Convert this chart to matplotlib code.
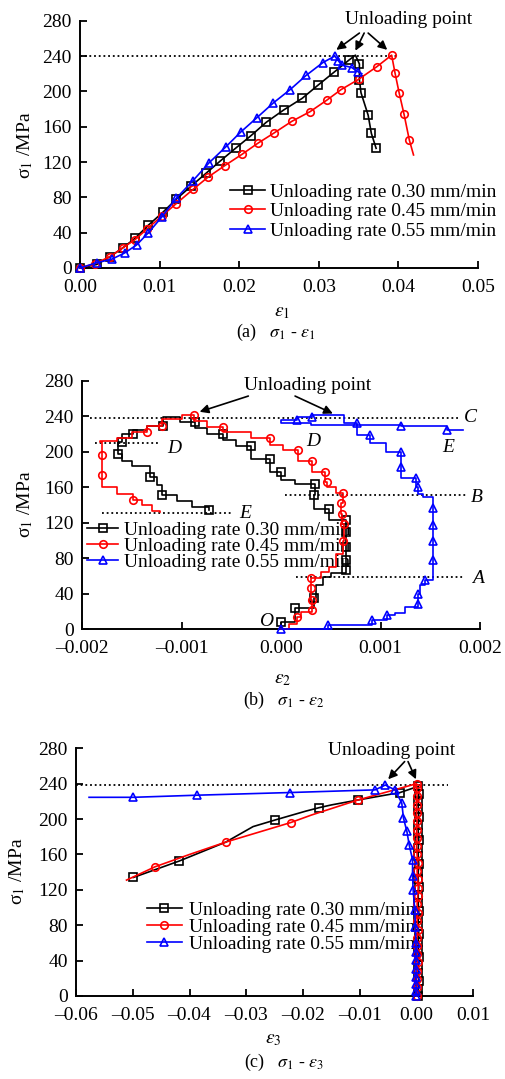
import matplotlib
matplotlib.use('Agg')
import matplotlib.pyplot as plt
from matplotlib.ticker import FuncFormatter

plt.rcParams['font.family'] = ['Liberation Serif', 'DejaVu Serif']
plt.rcParams['mathtext.fontset'] = 'stix'
plt.rcParams['font.size'] = 14

# ---------------- data ----------------
series_labels = ['Unloading rate 0.30 mm/min', 'Unloading rate 0.45 mm/min',
                 'Unloading rate 0.55 mm/min']
y_ticks = [0, 40, 80, 120, 160, 200, 240, 280]

# (a) sigma1 - eps1
a_x_030 = [0, 0.0021, 0.0038, 0.0054, 0.0069, 0.0086, 0.0104, 0.0121, 0.0140, 0.0158, 0.0176,
           0.0196, 0.0215, 0.0234, 0.0256, 0.0279, 0.0299, 0.0319, 0.0338, 0.0346, 0.0351,
           0.0351, 0.0353, 0.0362, 0.0366, 0.0372]
a_y_030 = [0, 4, 13, 23, 33.5, 48.6, 63, 78, 93, 107, 121, 136, 150, 165, 179, 192, 207,
           221.6, 235.5, 241, 231, 213, 198.5, 173, 152.5, 135.5]
a_x_045 = [0, 0.0019, 0.0038, 0.0054, 0.0069, 0.0084, 0.0103, 0.0121, 0.0142, 0.0161, 0.0182,
           0.0204, 0.0223, 0.0244, 0.0266, 0.0289, 0.0310, 0.0328, 0.0350, 0.0373, 0.03915,
           0.03957, 0.0401, 0.0407, 0.04137, 0.0419]
a_y_045 = [0, 5, 13, 23, 32, 44, 59, 73, 89, 103, 116, 129, 141, 153, 166, 177, 190, 202,
           213.6, 228, 241, 221, 198, 174.4, 145, 128]
a_x_055 = [0, 0.0021, 0.0040, 0.0056, 0.0071, 0.0086, 0.0103, 0.0121, 0.0142, 0.0162, 0.0183,
           0.0202, 0.0222, 0.0243, 0.0264, 0.0284, 0.0305, 0.0320, 0.03245, 0.03287, 0.03413,
           0.03497, 0.0354]
a_y_055 = [0, 6, 10, 17, 26, 40, 58, 79, 99, 119, 137, 154, 170, 187, 202, 218, 232.5, 240,
           234.7, 229.8, 227, 222, 220]

# (b) sigma1 - eps2
b_x_030 = [0, 0.0, 0.00014, 0.00014, 0.00033, 0.00035, 0.00042, 0.00050, 0.00065, 0.00065,
           0.00065, 0.00065, 0.00065, 0.00048, 0.00033, 0.00034, 0.00014, 0.0, -0.00011,
           -0.00030, -0.00045, -0.00058, -0.00075, -0.00087, -0.00102, -0.00119, -0.00135,
           -0.00149, -0.00160, -0.00164, -0.00160, -0.00150, -0.00132, -0.00125, -0.00120,
           -0.00105, -0.00090, -0.00073]
b_y_030 = [0, 8, 14, 24, 35, 50, 59, 63, 67, 78, 93, 110, 123, 136, 151, 164, 168, 177, 192,
           206, 213, 220, 227, 233, 239, 229, 224, 220, 211, 198, 190, 184, 172, 162, 151,
           145, 138, 134]
b_x_045 = [0, 0.00008, 0.00016, 0.00020, 0.00031, 0.00031, 0.00030, 0.00030, 0.00040, 0.00048,
           0.00055, 0.00062, 0.00063, 0.00061, 0.00060, 0.00062, 0.00055, 0.00046, 0.00044,
           0.00031, 0.00017, 0.00002, -0.00011, -0.00030, -0.00058, -0.00075, -0.00088,
           -0.00100, -0.00120, -0.00135, -0.00150, -0.00165, -0.00182, -0.00180, -0.00180,
           -0.00180, -0.00165, -0.00149, -0.00140, -0.00130, -0.00122]
b_y_045 = [0, 6, 14, 20, 22, 33, 46, 58, 64, 70, 85, 100, 119, 130, 142, 153, 160, 166, 177,
           190, 202, 208, 215, 222, 228, 235, 241, 237, 229, 222, 216, 212, 211, 196, 174, 160,
           152, 146, 140, 133, 132]
b_x_055 = [0.0, 0.00047, 0.00091, 0.00106, 0.00115, 0.00125, 0.00138, 0.00138, 0.00140,
           0.00145, 0.00153, 0.00153, 0.00153, 0.00153, 0.00153, 0.00153, 0.00143, 0.00138,
           0.00136, 0.00121, 0.00121, 0.00105, 0.00089, 0.00076, 0.00063, 0.00031, 0.00016,
           0.0, 0.00030, 0.00076, 0.00121, 0.00167, 0.00183]
b_y_055 = [0, 5, 11, 16, 18, 25, 28, 40, 50, 55, 58, 78, 99, 117, 137, 149, 152, 160, 170,
           183, 200, 210, 219, 232, 241, 239, 236, 232, 230, 230, 229, 224, 224]

# (c) sigma1 - eps3
c_x_030 = [0.0003, 0.0003, 0.0004, 0.0003, 0.0003, 0.0004, 0.0003, 0.0003, 0.0004, 0.0003,
           0.0003, 0.0004, 0.0003, 0.0003, 0.0004, 0.0003, 0.0003, 0.0004, 0.0003, 0.0003,
           0.0004, 0.0003, 0.0003, 0.0004, 0.0003, 0.0003, 0.0004, 0.0003,
           -0.0029, -0.0103, -0.0150, -0.0171, -0.0195, -0.0249, -0.0288, -0.0336, -0.0418,
           -0.0499]
c_y_030 = [0, 8, 17, 26, 35, 44, 52, 61, 70, 79, 88, 96, 105, 114, 123, 132, 140, 149, 158,
           167, 176, 184, 193, 202, 211, 220, 228, 237,
           230, 221.6, 216, 213, 209, 199, 191.5, 174, 152.6, 134]
c_x_045 = [0.0000, 0.0001, 0.0000, 0.0001, 0.0002, 0.0001, 0.0000, 0.0001, 0.0002, 0.0001,
           0.0002, 0.0001, 0.0002, 0.0003, 0.0002, 0.0001, 0.0002, 0.0001, 0.0000, 0.0001,
           0.0000, 0.0001, 0.0000, 0.0000, 0.0001, 0.0000, 0.0000,
           -0.0103, -0.0185, -0.0222, -0.0336, -0.0400, -0.0461, -0.0511]
c_y_045 = [0, 10, 19, 28, 38, 47, 57, 66, 75, 85, 94, 104, 113, 122, 132, 141, 150, 160, 169,
           179, 188, 198, 207, 216, 226, 235, 240,
           221.6, 204.6, 196, 174, 160, 146, 131]
c_x_055 = [-0.0001, -0.0001, -0.0001, -0.0001, -0.0001, -0.0001, -0.0001, -0.0001, -0.0002,
           -0.0003, -0.0006, -0.0007, -0.0007, -0.0013, -0.0017, -0.0023, -0.0026, -0.0038,
           -0.0055, -0.0073, -0.0223, -0.0386, -0.0499, -0.0577]
c_y_055 = [0, 6, 13, 21, 30, 41, 50, 60, 78, 97, 120, 136, 154, 171, 186, 201, 218, 233,
           238.5, 233, 230, 227, 224.6, 224.6]

# ---------------- styling ----------------
colors = ['black', 'red', 'blue']
markers = ['s', 'o', '^']
ms = 5.4
mew = 1.2
lw = 1.2

W, H = 505, 1079
fig = plt.figure(figsize=(W / 100, H / 100), dpi=100)


def axes_px(left, top, right, bottom):
    return fig.add_axes([left / W, 1 - bottom / H, (right - left) / W, (bottom - top) / H])


def style_axes(ax, xlim, xticks, fmt):
    ax.set_xlim(*xlim)
    ax.set_ylim(0, 280)
    ax.set_xticks(xticks)
    ax.set_yticks(y_ticks)
    ax.xaxis.set_major_formatter(FuncFormatter(lambda v, p: (fmt % v).replace('-', '\u2013')))
    for s in ['top', 'right']:
        ax.spines[s].set_visible(False)
    for s in ['left', 'bottom']:
        ax.spines[s].set_linewidth(1.4)
    ax.tick_params(direction='in', length=5, width=1.3, labelsize=14)
    ax.tick_params(axis='x', pad=8)
    ax.tick_params(axis='y', pad=6)


def draw(ax, xs, ys, k, every=None, steps=False):
    ax.plot(xs, ys, color=colors[k], lw=lw, marker=markers[k], ms=ms, mew=mew,
            mfc='none', mec=colors[k], markevery=every, clip_on=False, zorder=3,
            drawstyle='steps-post' if steps else 'default', label=series_labels[k])


def legend(ax, anchor, hl, htp, ls):
    leg = ax.legend(loc='upper left', bbox_to_anchor=anchor, frameon=False, fontsize=14,
                    handlelength=hl, handletextpad=htp, labelspacing=ls, borderpad=0,
                    borderaxespad=0, numpoints=1)
    leg.set_zorder(1)


def arrow(ax, start, end):
    ax.annotate('', xy=end, xytext=start, annotation_clip=False,
                arrowprops=dict(arrowstyle='-|>', color='black', lw=1.2,
                                mutation_scale=13, shrinkA=0, shrinkB=0))


dot = dict(color='black', lw=1.3, ls=(0, (1, 1.6)), zorder=2)

# ---------------- (a) ----------------
axA = axes_px(80, 20.7, 478, 268)
style_axes(axA, (0, 0.05), [0, 0.01, 0.02, 0.03, 0.04, 0.05], '%.2f')
axA.plot([0, 0.0397], [240, 240], **dot)
draw(axA, a_x_030, a_y_030, 0, every=[i for i in range(len(a_x_030)) if i != 19])
draw(axA, a_x_045, a_y_045, 1, every=list(range(len(a_x_045) - 1)))
draw(axA, a_x_055, a_y_055, 2, every=list(range(len(a_x_055) - 1)))
legend(axA, (0.377, 0.344), 1.8, 0.26, 0.10)
axA.text(0.0413, 281, 'Unloading point', ha='center', va='center', fontsize=14, clip_on=False)
arrow(axA, (0.0351, 266), (0.0322, 247))
arrow(axA, (0.0357, 266), (0.0346, 246))
arrow(axA, (0.0362, 266), (0.0386, 247))

# ---------------- (b) ----------------
axB = axes_px(82.3, 380.7, 480, 629.3)
style_axes(axB, (-0.002, 0.002), [-0.002, -0.001, 0.0, 0.001, 0.002], '%.3f')
axB.plot([-0.00192, 0.00178], [238, 238], **dot)
axB.plot([-0.00187, -0.00122], [209.4, 209.4], **dot)
axB.plot([-0.0018, -0.00048], [131, 131], **dot)
axB.plot([0.00004, 0.00187], [151, 151], **dot)
axB.plot([0.00015, 0.00185], [58.5, 58.5], **dot)
m030 = [1, 3, 4, 8, 9, 10, 11, 12, 13, 14, 15, 17, 18, 19, 21, 23, 25, 27, 28, 29, 32, 34, 37]
m045 = [2, 4, 5, 6, 7, 11, 12, 13, 14, 15, 17, 18, 19, 20, 22, 24, 26, 28, 29, 33, 34, 37]
m055 = [0, 1, 2, 3, 6, 7, 9, 11, 12, 13, 14, 17, 18, 19, 20, 22, 23, 25, 26, 30, 31]
draw(axB, b_x_030, b_y_030, 0, every=m030, steps=True)
draw(axB, b_x_045, b_y_045, 1, every=m045, steps=True)
draw(axB, b_x_055, b_y_055, 2, every=m055, steps=True)
legend(axB, (0.011, 0.434), 1.63, 0.3, -0.09)
for txt, x, y in [('C', 0.0019, 238), ('D', -0.00107, 204), ('E', -0.00036, 130.6),
                  ('B', 0.00197, 149), ('A', 0.00198, 57), ('D', 0.00032, 211),
                  ('E', 0.00168, 205), ('O', -0.00015, 8.5)]:
    axB.text(x, y, txt, ha='center', va='center', fontsize=14, style='italic', clip_on=False)
axB.text(0.00027, 275, 'Unloading point', ha='center', va='center', fontsize=14, clip_on=False)
arrow(axB, (-0.00033, 262.7), (-0.00082, 245))
arrow(axB, (0.00014, 262.7), (0.00052, 243))

# ---------------- (c) ----------------
axC = axes_px(76, 748.3, 473.3, 996)
style_axes(axC, (-0.06, 0.01), [-0.06, -0.05, -0.04, -0.03, -0.02, -0.01, 0.0, 0.01], '%.2f')
axC.plot([-0.06, 0.0056], [238.5, 238.5], **dot)
draw(axC, c_x_030, c_y_030, 0, every=list(range(28)) + [28, 29, 31, 33, 36, 37])
draw(axC, c_x_045, c_y_045, 1, every=list(range(27)) + [27, 29, 30, 32])
draw(axC, c_x_055, c_y_055, 2, every=list(range(len(c_x_055) - 1)))
legend(axC, (0.178, 0.382), 1.8, 0.38, -0.04)
axC.text(-0.0044, 278, 'Unloading point', ha='center', va='center', fontsize=14, clip_on=False)
arrow(axC, (-0.0021, 265), (-0.0050, 245))
arrow(axC, (-0.0015, 265), (-0.0001, 245))

# ---------------- labels & captions ----------------
def ftext(px, py, s, **kw):
    fig.text(px / W, 1 - py / H, s, ha='center', va='center', **kw)

for py in [145, 504]:
    ftext(25, py, 'σ$_1$ /MPa', rotation=90, fontsize=14)
ftext(17.5, 871, 'σ$_1$ /MPa', rotation=90, fontsize=14)
ftext(282, 313, r'$\varepsilon_1$', fontsize=14)
ftext(283, 680, r'$\varepsilon_2$', fontsize=14)
ftext(273, 1040, r'$\varepsilon_3$', fontsize=14)
ftext(276, 332, r'(a)   $\sigma_1$ - $\varepsilon_1$', fontsize=13)
ftext(284, 700, r'(b)   $\sigma_1$ - $\varepsilon_2$', fontsize=13)
ftext(284, 1062, r'(c)   $\sigma_1$ - $\varepsilon_3$', fontsize=13)

fig.savefig('out.png', dpi=100)
